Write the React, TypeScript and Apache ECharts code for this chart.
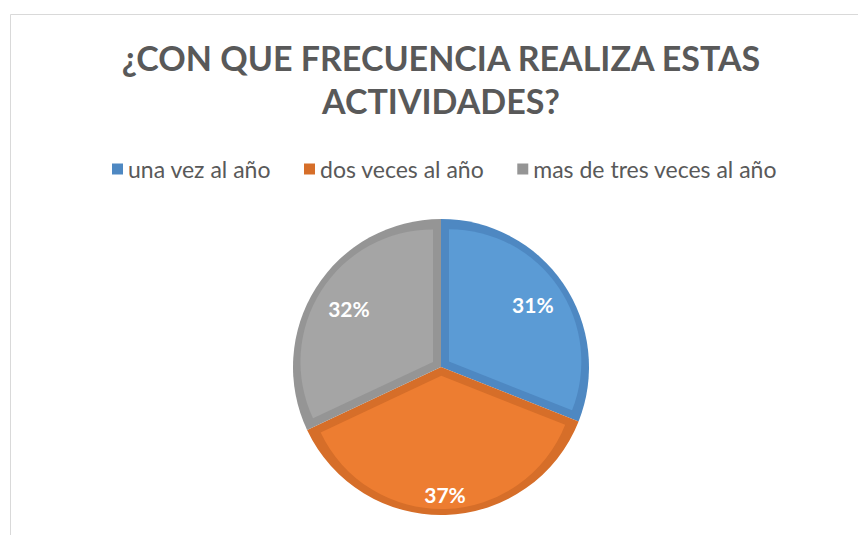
import React, { useEffect, useRef } from "react";
import * as echarts from "echarts";

const categories = ["una vez al año", "dos veces al año", "mas de tres veces al año"];
const values = [31, 37, 32];
const lightColors = ["#5B9BD5", "#ED7D31", "#A5A5A5"];
const darkColors = ["#4E88C2", "#D66E29", "#959595"];
const titleText = "¿CON QUE FRECUENCIA REALIZA ESTAS\nACTIVIDADES?";

// layout
const CX = 441;
const CY = 367;
const R = 148;
const EDGE = 8;
const labelRadii = [108, 125, 106];

export default function App() {
  const ref = useRef<HTMLDivElement>(null);
  useEffect(() => {
    if (!ref.current) return;
    const chart = echarts.init(ref.current, null, { renderer: "svg" });
    const total = values.reduce((a, b) => a + b, 0);
    let cum = 0;
    const lightSeries: any[] = [];
    const labelSeries: any[] = [];
    values.forEach((v, i) => {
      const a0 = 90 - (360 * cum) / total;
      const a1 = a0 - (360 * v) / total;
      cum += v;
      const mid = ((a0 + a1) / 2) * (Math.PI / 180);
      const half = ((180 * v) / total) * (Math.PI / 180);
      const s = EDGE / Math.sin(half);
      const cx = CX + s * Math.cos(mid);
      const cy = CY - s * Math.sin(mid);
      lightSeries.push({
        type: "pie",
        silent: true,
        center: [cx, cy],
        radius: R - EDGE - s + 2,
        startAngle: 90,
        avoidLabelOverlap: false,
        label: { show: false },
        labelLine: { show: false },
        emphasis: { disabled: true },
        data: values.map((val, j) => ({
          name: categories[j],
          value: val,
          itemStyle: { color: j === i ? lightColors[j] : "transparent", borderWidth: 0 },
        })),
      });
      labelSeries.push({
        type: "pie",
        silent: true,
        center: [CX, CY],
        radius: labelRadii[i] * 2,
        startAngle: 90,
        avoidLabelOverlap: false,
        labelLine: { show: false },
        emphasis: { disabled: true },
        label: {
          show: true,
          position: "inside",
          color: "#ffffff",
          fontFamily: "Lato",
          fontWeight: "bold",
          fontSize: 21,
          formatter: (p: any) => Math.round(p.percent) + "%",
        },
        data: values.map((val, j) => ({
          name: categories[j],
          value: val,
          itemStyle: { color: "transparent", borderWidth: 0 },
          label: { show: j === i },
        })),
      });
    });

    chart.setOption({
      animation: false,
      backgroundColor: "#ffffff",
      graphic: [
        {
          type: "rect",
          silent: true,
          z: -10,
          shape: { x: 10.5, y: 14.5, width: 1000, height: 1000 },
          style: { fill: "none", stroke: "#d9d9d9", lineWidth: 1 },
        },
      ],
      title: {
        text: titleText,
        left: 441,
        top: 36,
        padding: 0,
        textAlign: "center",
        textStyle: {
          fontFamily: "Lato",
          fontWeight: "bold",
          fontSize: 34,
          lineHeight: 43,
          color: "#595959",
        },
      },
      legend: {
        left: 112,
        top: 157,
        padding: 0,
        itemWidth: 11,
        itemHeight: 11,
        itemGap: 33,
        icon: "rect",
        selectedMode: false,
        data: categories,
        textStyle: {
          fontFamily: "Lato",
          fontSize: 23,
          lineHeight: 24,
          color: "#595959",
        },
      },
      series: [
        {
          type: "pie",
          silent: true,
          center: [CX, CY],
          radius: R,
          startAngle: 90,
          avoidLabelOverlap: false,
          label: { show: false },
          labelLine: { show: false },
          emphasis: { disabled: true },
          data: values.map((v, j) => ({
            name: categories[j],
            value: v,
            itemStyle: { color: darkColors[j], borderWidth: 0 },
          })),
        },
        ...lightSeries,
        ...labelSeries,
      ],
    });
    return () => chart.dispose();
  }, []);
  return (
    <div
      ref={ref}
      style={{ position: "fixed", left: 0, top: 0, width: 858, height: 535 }}
    />
  );
}
